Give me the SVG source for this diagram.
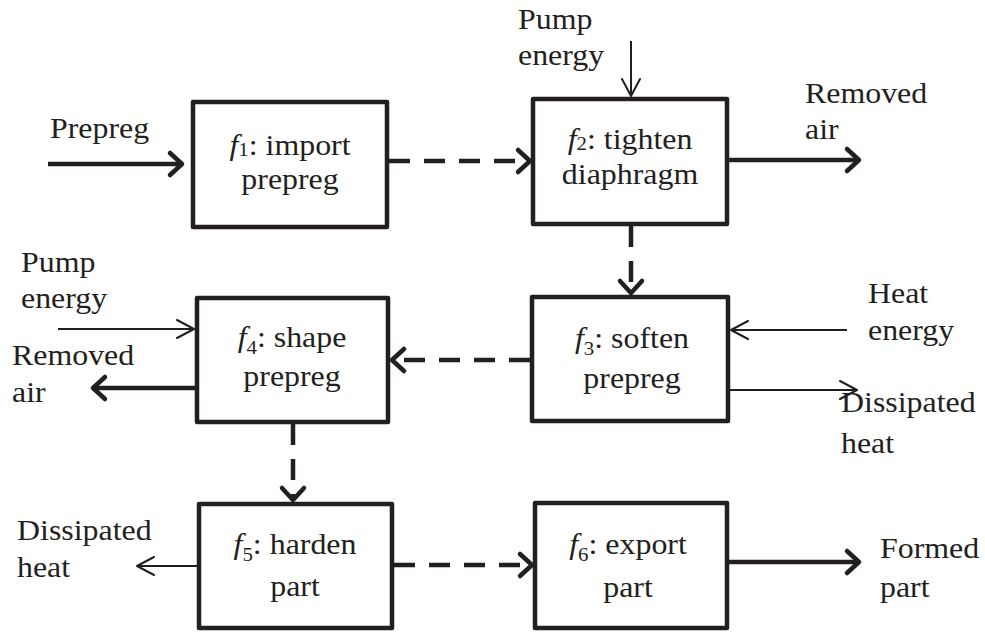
<svg xmlns="http://www.w3.org/2000/svg" width="985" height="632" viewBox="0 0 985 632">
  <style>
    .box { fill: #ffffff; stroke: #231f20; stroke-width: 4.5; stroke-linejoin: round; }
    .t { font-size: 29px; fill: #231f20; }
    .c { text-anchor: middle; }
    .f { font-style: italic; }
    .sub { font-size: 19px; }
    .thick { stroke: #231f20; stroke-width: 4.5; fill: none; marker-end: url(#headThick); }
    .dash { stroke: #231f20; stroke-width: 4.5; fill: none; stroke-dasharray: 21 14; marker-end: url(#headThick); }
    .thin { stroke: #231f20; stroke-width: 2; fill: none; marker-end: url(#headThin); }
  </style>
  <defs>
    <marker id="headThick" markerUnits="userSpaceOnUse" viewBox="-20 -16 24 32" markerWidth="24" markerHeight="32" refX="0" refY="0" orient="auto" overflow="visible">
      <path d="M-12,-11 L0,0 L-12,11" fill="none" stroke="#231f20" stroke-width="4.5" stroke-linecap="round" stroke-linejoin="round"/>
    </marker>
    <marker id="headThin" markerUnits="userSpaceOnUse" viewBox="-20 -12 24 24" markerWidth="24" markerHeight="24" refX="0" refY="0" orient="auto" overflow="visible">
      <path d="M-17,-9 L0,0 L-17,9" fill="none" stroke="#231f20" stroke-width="2" stroke-linecap="round" stroke-linejoin="round"/>
    </marker>
  </defs>

  <rect width="985" height="632" fill="#ffffff"/>

  <!-- flows between and around the functions -->
  <g id="connectors">
    <line class="thick" x1="48" y1="164" x2="182" y2="164"/>
    <line class="dash" x1="389" y1="161" x2="530" y2="161"/>
    <line class="thin" x1="631" y1="41" x2="631" y2="96"/>
    <line class="thick" x1="729" y1="160" x2="859" y2="160"/>
    <line class="dash" x1="631" y1="226" x2="631" y2="293"/>
    <line class="thin" x1="847" y1="330" x2="731" y2="330"/>
    <line class="thin" x1="730" y1="390" x2="857" y2="390"/>
    <line class="dash" x1="530" y1="360" x2="392" y2="360"/>
    <line class="thin" x1="58" y1="329" x2="194" y2="329"/>
    <line class="thick" x1="195" y1="388" x2="93" y2="388"/>
    <line class="dash" x1="293" y1="424" x2="293" y2="500"/>
    <line class="thin" x1="197" y1="566" x2="137" y2="566"/>
    <line class="dash" x1="394" y1="565" x2="532" y2="565"/>
    <line class="thick" x1="729" y1="562" x2="859" y2="562"/>
  </g>

  <!-- flow labels -->
  <g id="labels" font-family="'Liberation Serif', 'DejaVu Serif', serif">
    <text class="t" transform="matrix(1.1 0 0 1 50 138)">Prepreg</text>
    <text class="t" transform="matrix(1.1 0 0 1 518 29)">Pump</text>
    <text class="t" transform="matrix(1.1 0 0 1 518 65)">energy</text>
    <text class="t" transform="matrix(1.1 0 0 1 805 103)">Removed</text>
    <text class="t" transform="matrix(1.1 0 0 1 805 139)">air</text>
    <text class="t" transform="matrix(1.1 0 0 1 21 272)">Pump</text>
    <text class="t" transform="matrix(1.1 0 0 1 21 308)">energy</text>
    <text class="t" transform="matrix(1.1 0 0 1 12 365)">Removed</text>
    <text class="t" transform="matrix(1.1 0 0 1 12 402)">air</text>
    <text class="t" transform="matrix(1.1 0 0 1 868 303)">Heat</text>
    <text class="t" transform="matrix(1.1 0 0 1 868 340)">energy</text>
    <text class="t" transform="matrix(1.1 0 0 1 841 412)">Dissipated</text>
    <text class="t" transform="matrix(1.1 0 0 1 841 453)">heat</text>
    <text class="t" transform="matrix(1.1 0 0 1 17 540)">Dissipated</text>
    <text class="t" transform="matrix(1.1 0 0 1 17 577)">heat</text>
    <text class="t" transform="matrix(1.1 0 0 1 880 558)">Formed</text>
    <text class="t" transform="matrix(1.1 0 0 1 880 597)">part</text>
  </g>

  <g id="nodes" font-family="'Liberation Serif', 'DejaVu Serif', serif">
    <g id="f1">
      <rect class="box" x="193" y="102" width="194" height="125"/>
      <text class="t c" transform="matrix(1.1 0 0 1 290 155)"><tspan class="f">f</tspan><tspan class="sub" dy="1">1</tspan><tspan dy="-1">: import</tspan></text>
      <text class="t c" transform="matrix(1.1 0 0 1 290 189)">prepreg</text>
    </g>

    <g id="f2">
      <rect class="box" x="533" y="99" width="194" height="125"/>
      <text class="t c" transform="matrix(1.1 0 0 1 630 149)"><tspan class="f">f</tspan><tspan class="sub" dy="1">2</tspan><tspan dy="-1">: tighten</tspan></text>
      <text class="t c" transform="matrix(1.1 0 0 1 630 184)">diaphragm</text>
    </g>

    <g id="f3">
      <rect class="box" x="532" y="297" width="196" height="124"/>
      <text class="t c" transform="matrix(1.1 0 0 1 632 348)"><tspan class="f">f</tspan><tspan class="sub" dy="7">3</tspan><tspan dy="-7">: soften</tspan></text>
      <text class="t c" transform="matrix(1.1 0 0 1 632 388)">prepreg</text>
    </g>

    <g id="f4">
      <rect class="box" x="197" y="298" width="191" height="124"/>
      <text class="t c" transform="matrix(1.1 0 0 1 292 347)"><tspan class="f">f</tspan><tspan class="sub" dy="7">4</tspan><tspan dy="-7">: shape</tspan></text>
      <text class="t c" transform="matrix(1.1 0 0 1 292 386)">prepreg</text>
    </g>

    <g id="f5">
      <rect class="box" x="199" y="504" width="193" height="124"/>
      <text class="t c" transform="matrix(1.1 0 0 1 295 554)"><tspan class="f">f</tspan><tspan class="sub" dy="7">5</tspan><tspan dy="-7">: harden</tspan></text>
      <text class="t c" transform="matrix(1.1 0 0 1 295 596)">part</text>
    </g>

    <g id="f6">
      <rect class="box" x="535" y="503" width="192" height="125"/>
      <text class="t c" transform="matrix(1.1 0 0 1 628 554)"><tspan class="f">f</tspan><tspan class="sub" dy="7">6</tspan><tspan dy="-7">: export</tspan></text>
      <text class="t c" transform="matrix(1.1 0 0 1 628 597)">part</text>
    </g>
  </g>
</svg>
